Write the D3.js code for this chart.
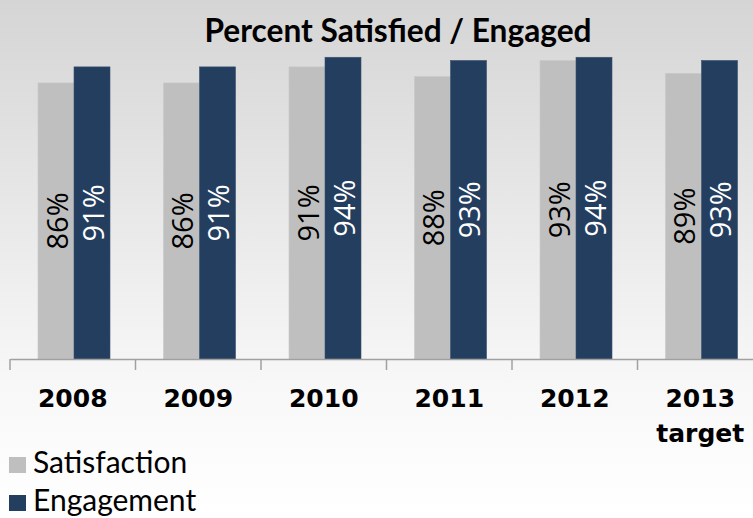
<!DOCTYPE html>
<html lang="en">
<head>
    <meta charset="UTF-8">
    <script src="https://d3js.org/d3.v7.min.js"></script>
    <title>Percent Satisfied / Engaged</title>
    <style>
        body { margin: 0; }
        svg { display: block; }
    </style>
</head>
<body>
    <svg width="753" height="518" id="chart"></svg>
    <script>
        // chart data
        var years = ["2008", "2009", "2010", "2011", "2012", "2013"];
        var subLabels = ["", "", "", "", "", "target"];
        var satisfaction = [86, 86, 91, 88, 93, 89];
        var engagement = [91, 91, 94, 93, 94, 93];
        var seriesNames = ["Satisfaction", "Engagement"];
        var colors = ["#bfbfbf", "#243e60"];

        let svg = d3.select("#chart");

        // background gradient
        let defs = svg.append("defs");
        let grad = defs.append("linearGradient")
            .attr("id", "bg")
            .attr("x1", 0).attr("y1", 0).attr("x2", 0).attr("y2", 1);
        grad.append("stop").attr("offset", "0%").attr("stop-color", "#d5d5d5");
        grad.append("stop").attr("offset", "75%").attr("stop-color", "#f8f8f8");
        grad.append("stop").attr("offset", "100%").attr("stop-color", "#ffffff");

        svg.append("rect")
            .attr("width", 753).attr("height", 518)
            .attr("fill", "url(#bg)");

        let x = d3.scaleBand()
            .domain(years)
            .range([10, 10 + 125.5 * years.length]);

        let inner = d3.scaleBand()
            .domain([0, 1])
            .range([28, 100]);

        let y = d3.scaleLinear()
            .domain([0, 100])
            .range([359, 38]);

        // title
        svg.append("text")
            .attr("x", 398)
            .attr("y", 42)
            .attr("text-anchor", "middle")
            .attr("textLength", 387)
            .attr("lengthAdjust", "spacingAndGlyphs")
            .attr("style", "font-family: Lato; font-weight: bold; font-size: 32px; fill: #000;")
            .text("Percent Satisfied / Engaged");

        // bars
        let series = [satisfaction, engagement];
        series.forEach(function(vals, s) {
            let g = svg.append("g");
            g.selectAll("rect")
                .data(vals)
                .enter()
                .append("rect")
                .attr("x", (d, i) => x(years[i]) + inner(s))
                .attr("y", d => y(d))
                .attr("width", inner.bandwidth())
                .attr("height", d => y(0) - y(d))
                .attr("fill", colors[s])
                .attr("stroke", s == 0 ? "#c8c8c8" : "#3a5170")
                .attr("stroke-width", 0.6);

            g.selectAll("text")
                .data(vals)
                .enter()
                .append("text")
                .attr("transform", (d, i) => {
                    let cx = x(years[i]) + inner(s) + inner.bandwidth() / 2;
                    let cy = (y(d) + y(0)) / 2;
                    return "translate(" + cx + "," + cy + ") rotate(-90)";
                })
                .attr("text-anchor", "middle")
                .attr("dominant-baseline", "central")
                .attr("style", "font-family: 'Open Sans'; font-size: 29px;")
                .attr("fill", s == 0 ? "#000" : "#fff")
                .text(d => d + "%");
        });

        // x axis
        let axisG = svg.append("g")
            .attr("transform", "translate(0," + y(0) + ")")
            .call(d3.axisBottom(x).tickSize(0).tickFormat(""));
        axisG.select(".domain").attr("stroke", "#a0a0a0").attr("stroke-width", 1.5);

        // tick marks at band edges
        axisG.selectAll(".edge")
            .data(years)
            .enter()
            .append("line")
            .attr("x1", d => x(d)).attr("x2", d => x(d))
            .attr("y1", 0).attr("y2", 11)
            .attr("stroke", "#a0a0a0")
            .attr("stroke-width", 1.5);

        // category labels
        svg.selectAll(".yr")
            .data(years)
            .enter()
            .append("text")
            .attr("x", d => x(d) + x.bandwidth() / 2)
            .attr("y", 407)
            .attr("text-anchor", "middle")
            .attr("style", "font-family: 'DejaVu Sans'; font-weight: bold; font-size: 25px;")
            .text(d => d);

        svg.selectAll(".sub")
            .data(subLabels)
            .enter()
            .append("text")
            .attr("x", (d, i) => x(years[i]) + x.bandwidth() / 2)
            .attr("y", 442)
            .attr("text-anchor", "middle")
            .attr("style", "font-family: 'DejaVu Sans'; font-weight: bold; font-size: 25px;")
            .text(d => d);

        // legend
        seriesNames.forEach(function(name, i) {
            svg.append("rect")
                .attr("x", 9)
                .attr("y", 457 + i * 38)
                .attr("width", 17)
                .attr("height", 16)
                .attr("fill", colors[i]);
            svg.append("text")
                .attr("x", 33)
                .attr("y", 473 + i * 38)
                .attr("style", "font-family: Lato; font-size: 30px;")
                .text(name);
        });
    </script>
</body>
</html>
